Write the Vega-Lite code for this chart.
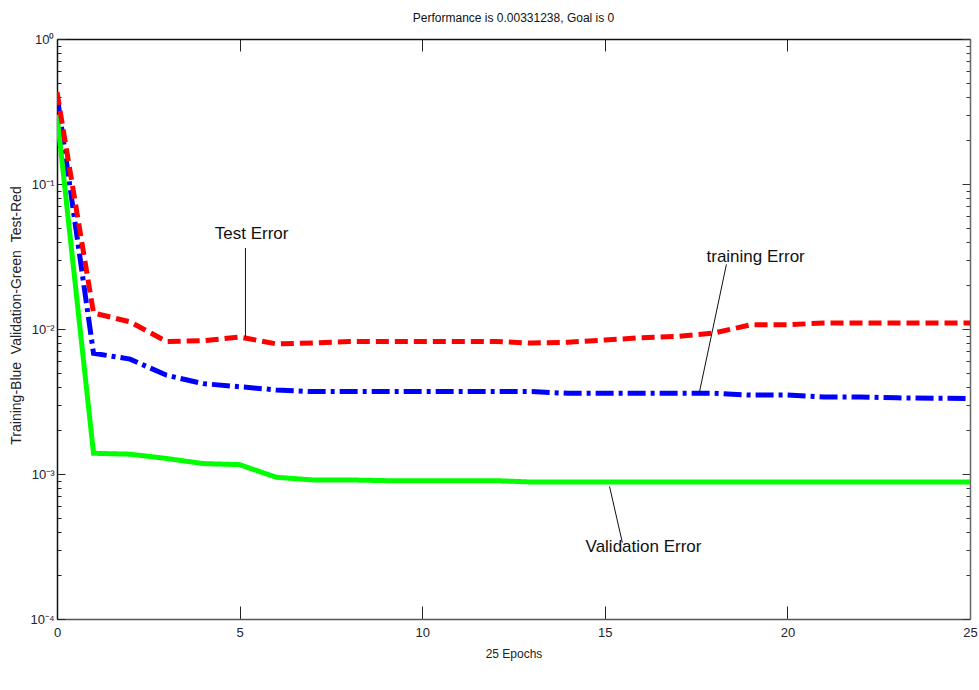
{
  "$schema": "https://vega.github.io/schema/vega-lite/v6.json",
  "width": 913,
  "height": 580,
  "autosize": {"type": "none"},
  "padding": {"left": 57, "top": 39, "right": 9, "bottom": 71},
  "background": "white",
  "config": {"view": {"stroke": null}},
  "title": {
    "text": "Performance is 0.00331238, Goal is 0",
    "font": "Liberation Sans Narrow, Liberation Sans, Arial",
    "fontSize": 12,
    "fontWeight": "normal",
    "color": "#111111",
    "offset": 8,
    "anchor": "middle"
  },
  "datasets": {
    "perf": [
      {"series": "Training", "epoch": 0, "value": 0.41},
      {"series": "Training", "epoch": 1, "value": 0.0068},
      {"series": "Training", "epoch": 2, "value": 0.0062},
      {"series": "Training", "epoch": 3, "value": 0.0048},
      {"series": "Training", "epoch": 4, "value": 0.0042},
      {"series": "Training", "epoch": 5, "value": 0.0040},
      {"series": "Training", "epoch": 6, "value": 0.0038},
      {"series": "Training", "epoch": 7, "value": 0.0037},
      {"series": "Training", "epoch": 8, "value": 0.0037},
      {"series": "Training", "epoch": 9, "value": 0.0037},
      {"series": "Training", "epoch": 10, "value": 0.0037},
      {"series": "Training", "epoch": 11, "value": 0.0037},
      {"series": "Training", "epoch": 12, "value": 0.0037},
      {"series": "Training", "epoch": 13, "value": 0.0037},
      {"series": "Training", "epoch": 14, "value": 0.0036},
      {"series": "Training", "epoch": 15, "value": 0.0036},
      {"series": "Training", "epoch": 16, "value": 0.0036},
      {"series": "Training", "epoch": 17, "value": 0.0036},
      {"series": "Training", "epoch": 18, "value": 0.0036},
      {"series": "Training", "epoch": 19, "value": 0.0035},
      {"series": "Training", "epoch": 20, "value": 0.0035},
      {"series": "Training", "epoch": 21, "value": 0.0034},
      {"series": "Training", "epoch": 22, "value": 0.0034},
      {"series": "Training", "epoch": 23, "value": 0.00335},
      {"series": "Training", "epoch": 24, "value": 0.00333},
      {"series": "Training", "epoch": 25, "value": 0.00331238},
      {"series": "Validation", "epoch": 0, "value": 0.3},
      {"series": "Validation", "epoch": 1, "value": 0.00139},
      {"series": "Validation", "epoch": 2, "value": 0.00137},
      {"series": "Validation", "epoch": 3, "value": 0.00128},
      {"series": "Validation", "epoch": 4, "value": 0.00118},
      {"series": "Validation", "epoch": 5, "value": 0.00116},
      {"series": "Validation", "epoch": 6, "value": 0.00095},
      {"series": "Validation", "epoch": 7, "value": 0.00091},
      {"series": "Validation", "epoch": 8, "value": 0.00091},
      {"series": "Validation", "epoch": 9, "value": 0.0009},
      {"series": "Validation", "epoch": 10, "value": 0.0009},
      {"series": "Validation", "epoch": 11, "value": 0.0009},
      {"series": "Validation", "epoch": 12, "value": 0.0009},
      {"series": "Validation", "epoch": 13, "value": 0.00088},
      {"series": "Validation", "epoch": 14, "value": 0.00088},
      {"series": "Validation", "epoch": 15, "value": 0.00088},
      {"series": "Validation", "epoch": 16, "value": 0.00088},
      {"series": "Validation", "epoch": 17, "value": 0.00088},
      {"series": "Validation", "epoch": 18, "value": 0.00088},
      {"series": "Validation", "epoch": 19, "value": 0.00088},
      {"series": "Validation", "epoch": 20, "value": 0.00088},
      {"series": "Validation", "epoch": 21, "value": 0.00088},
      {"series": "Validation", "epoch": 22, "value": 0.00088},
      {"series": "Validation", "epoch": 23, "value": 0.00088},
      {"series": "Validation", "epoch": 24, "value": 0.00088},
      {"series": "Validation", "epoch": 25, "value": 0.00088},
      {"series": "Test", "epoch": 0, "value": 0.43},
      {"series": "Test", "epoch": 1, "value": 0.0129},
      {"series": "Test", "epoch": 2, "value": 0.0112},
      {"series": "Test", "epoch": 3, "value": 0.0082},
      {"series": "Test", "epoch": 4, "value": 0.0083},
      {"series": "Test", "epoch": 5, "value": 0.0088},
      {"series": "Test", "epoch": 6, "value": 0.0079},
      {"series": "Test", "epoch": 7, "value": 0.008},
      {"series": "Test", "epoch": 8, "value": 0.0082},
      {"series": "Test", "epoch": 9, "value": 0.0082},
      {"series": "Test", "epoch": 10, "value": 0.0082},
      {"series": "Test", "epoch": 11, "value": 0.0082},
      {"series": "Test", "epoch": 12, "value": 0.0082},
      {"series": "Test", "epoch": 13, "value": 0.008},
      {"series": "Test", "epoch": 14, "value": 0.0081},
      {"series": "Test", "epoch": 15, "value": 0.0084},
      {"series": "Test", "epoch": 16, "value": 0.0087},
      {"series": "Test", "epoch": 17, "value": 0.0089},
      {"series": "Test", "epoch": 18, "value": 0.0094},
      {"series": "Test", "epoch": 19, "value": 0.0107},
      {"series": "Test", "epoch": 20, "value": 0.0107},
      {"series": "Test", "epoch": 21, "value": 0.011},
      {"series": "Test", "epoch": 22, "value": 0.011},
      {"series": "Test", "epoch": 23, "value": 0.011},
      {"series": "Test", "epoch": 24, "value": 0.011},
      {"series": "Test", "epoch": 25, "value": 0.011}
    ],
    "notes": [
      {"label": "Test Error", "tx": 5.33, "ty": 0.0449, "x1": 5.16, "y1": 0.0362, "x2": 5.16, "y2": 0.0087},
      {"label": "training Error", "tx": 19.13, "ty": 0.0316, "x1": 18.33, "y1": 0.0279, "x2": 17.59, "y2": 0.00365},
      {"label": "Validation Error", "tx": 16.06, "ty": 0.000316, "x1": 15.13, "y1": 0.00082, "x2": 15.48, "y2": 0.000337}
    ]
  },
  "resolve": {"axis": {"x": "independent", "y": "independent"}},
  "layer": [
    {
      "data": {"name": "perf"},
      "mark": {"type": "line", "strokeWidth": 5, "strokeCap": "butt", "clip": true},
      "encoding": {
        "x": {
          "field": "epoch", "type": "quantitative",
          "scale": {"domain": [0, 25], "nice": false},
          "axis": {
            "orient": "bottom",
            "values": [0, 5, 10, 15, 20, 25],
            "title": "25 Epochs",
            "titleFont": "Liberation Sans Narrow, Liberation Sans, Arial",
            "titleFontSize": 12, "titleFontWeight": "normal", "titleColor": "#222222",
            "titlePadding": 9,
            "labelFont": "Liberation Sans Narrow, Liberation Sans, Arial",
            "labelFontSize": 13, "labelColor": "#222233",
            "labelPadding": 20,
            "labelFlush": false,
            "tickSize": -13, "tickColor": "#222222", "tickWidth": 1,
            "domainColor": "#555555", "domainWidth": 1.5,
            "grid": false
          }
        },
        "y": {
          "field": "value", "type": "quantitative",
          "scale": {"type": "log", "domain": [0.0001, 1], "nice": false},
          "axis": {
            "orient": "left",
            "values": [0.0001, 0.0002, 0.0003, 0.0004, 0.0005, 0.0006, 0.0007, 0.0008, 0.0009, 0.001, 0.002, 0.003, 0.004, 0.005, 0.006, 0.007, 0.008, 0.009, 0.01, 0.02, 0.03, 0.04, 0.05, 0.06, 0.07, 0.08, 0.09, 0.1, 0.2, 0.3, 0.4, 0.5, 0.6, 0.7, 0.8, 0.9, 1],
            "labelExpr": "datum.value == 1 ? '10⁰' : datum.value == 0.1 ? '10⁻¹' : datum.value == 0.01 ? '10⁻²' : datum.value == 0.001 ? '10⁻³' : datum.value == 0.0001 ? '10⁻⁴' : ''",
            "title": "Training-Blue\u00a0\u00a0Validation-Green\u00a0\u00a0Test-Red",
            "titleFont": "Liberation Sans, Arial",
            "titleFontSize": 14, "titleFontWeight": "normal", "titleColor": "#222222",
            "titleX": -41, "titleY": 276, "titleAngle": -90, "titleBaseline": "middle", "titleAlign": "center",
            "labelFont": "Liberation Sans Narrow, Liberation Sans, Arial",
            "labelFontSize": 13, "labelColor": "#222233",
            "labelPadding": 11,
            "labelFlush": false,
            "labelOverlap": false,
            "tickSize": {"condition": {"test": "datum.value == 1 || datum.value == 0.1 || datum.value == 0.01 || datum.value == 0.001 || datum.value == 0.0001", "value": -8}, "value": -4},
            "tickColor": "#222222", "tickWidth": 1,
            "domainColor": "#111111", "domainWidth": 1.5,
            "grid": false
          }
        },
        "color": {
          "field": "series", "type": "nominal",
          "scale": {"domain": ["Training", "Validation", "Test"], "range": ["#0000ff", "#00ff00", "#ff0000"]},
          "legend": null
        },
        "strokeDash": {
          "field": "series", "type": "nominal",
          "scale": {"domain": ["Training", "Validation", "Test"], "range": [[18, 5, 4, 5], [1, 0], [13, 6]]},
          "legend": null
        }
      }
    },
    {
      "data": {"name": "perf"},
      "mark": {"type": "line", "opacity": 0},
      "encoding": {
        "x": {
          "field": "epoch", "type": "quantitative",
          "scale": {"domain": [0, 25], "nice": false},
          "axis": {
            "orient": "top", "values": [0, 5, 10, 15, 20, 25], "labels": false, "title": null,
            "tickSize": -12, "tickColor": "#222222", "domainColor": "#111111", "domainWidth": 1.5, "grid": false
          }
        },
        "y": {
          "field": "value", "type": "quantitative",
          "scale": {"type": "log", "domain": [0.0001, 1], "nice": false},
          "axis": {
            "orient": "right",
            "values": [0.0001, 0.0002, 0.0003, 0.0004, 0.0005, 0.0006, 0.0007, 0.0008, 0.0009, 0.001, 0.002, 0.003, 0.004, 0.005, 0.006, 0.007, 0.008, 0.009, 0.01, 0.02, 0.03, 0.04, 0.05, 0.06, 0.07, 0.08, 0.09, 0.1, 0.2, 0.3, 0.4, 0.5, 0.6, 0.7, 0.8, 0.9, 1],
            "labels": false, "title": null,
            "tickSize": {"condition": {"test": "datum.value == 1 || datum.value == 0.1 || datum.value == 0.01 || datum.value == 0.001 || datum.value == 0.0001", "value": -8}, "value": -4},
            "tickColor": "#333333", "domainColor": "#666666", "domainWidth": 1.5, "grid": false
          }
        }
      }
    },
    {
      "data": {"name": "notes"},
      "mark": {"type": "rule", "color": "#111111", "strokeWidth": 1},
      "encoding": {
        "x": {"field": "x1", "type": "quantitative", "axis": null},
        "y": {"field": "y1", "type": "quantitative", "axis": null},
        "x2": {"field": "x2"},
        "y2": {"field": "y2"}
      }
    },
    {
      "data": {"name": "notes"},
      "mark": {"type": "text", "font": "Liberation Sans, Arial", "fontSize": 17, "color": "#111111", "align": "center", "baseline": "middle"},
      "encoding": {
        "x": {"field": "tx", "type": "quantitative", "axis": null},
        "y": {"field": "ty", "type": "quantitative", "axis": null},
        "text": {"field": "label"}
      }
    }
  ]
}
